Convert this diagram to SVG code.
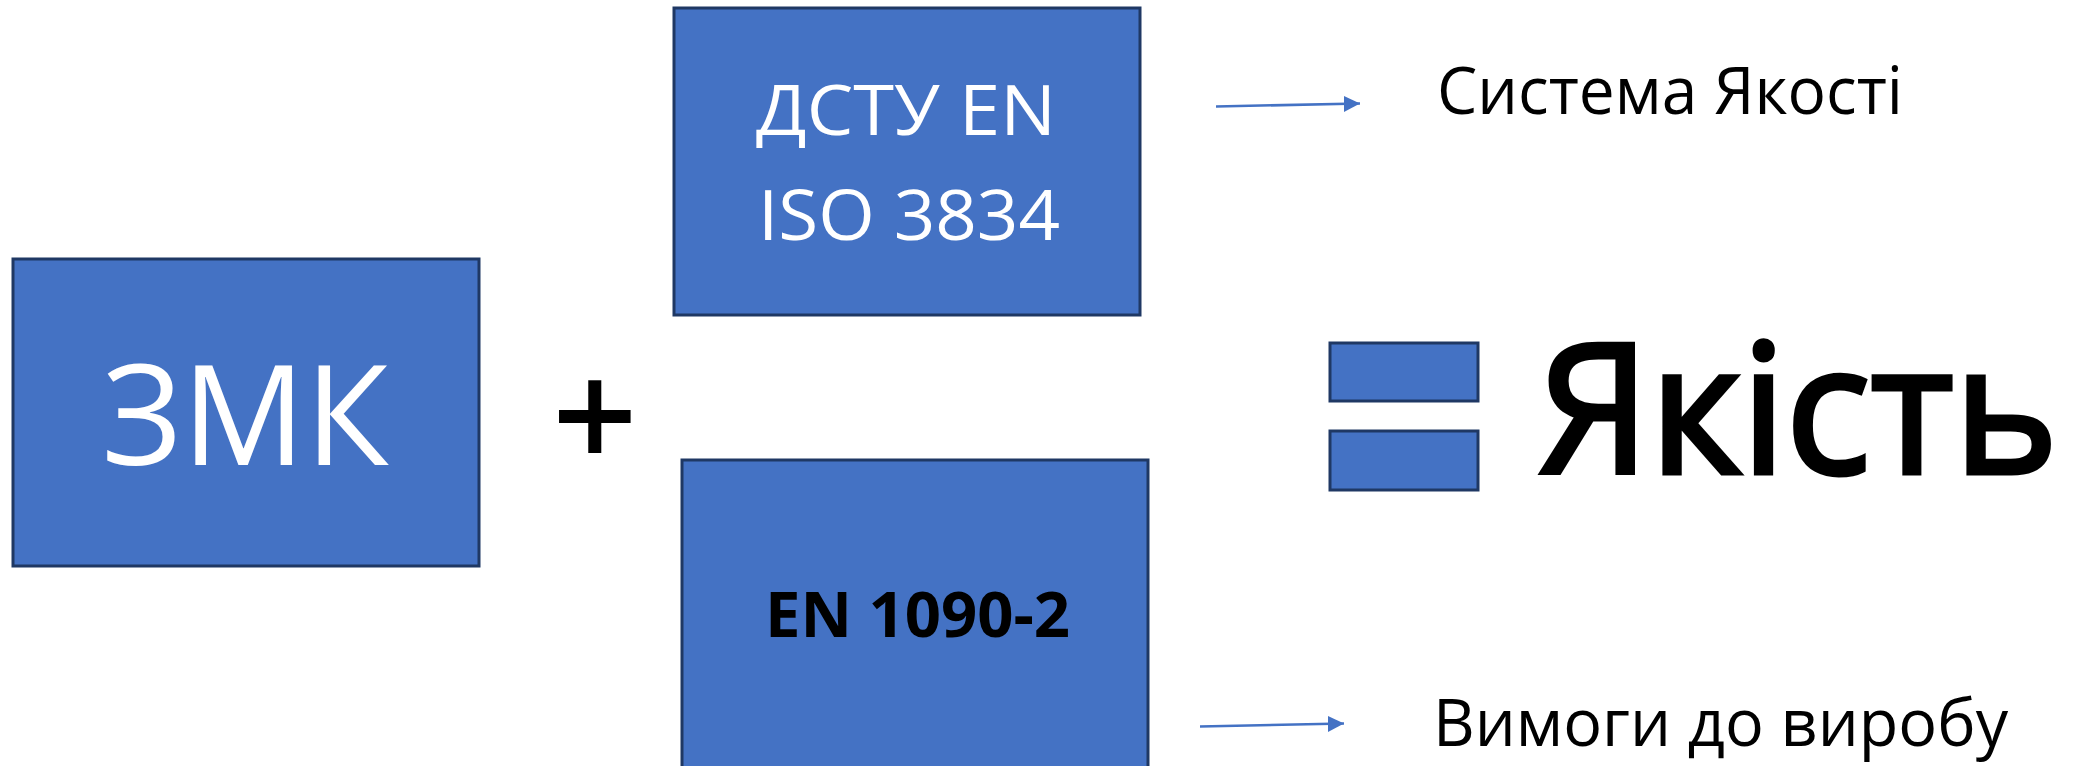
<svg xmlns="http://www.w3.org/2000/svg" width="2082" height="766" viewBox="0 0 2082 766">
<style>
.box{fill:#4472C4;stroke:#1F3864;stroke-width:3}
.wt{fill:#ffffff;font-family:"Open Sans","Liberation Sans",sans-serif;font-weight:400}
.bt{fill:#000000;font-family:"Open Sans","Liberation Sans",sans-serif}
.conn{stroke:#4472C4;stroke-width:2.5;fill:none}
</style>
<defs>
<marker id="ah" viewBox="0 0 10 10" refX="10" refY="5" markerWidth="6.5" markerHeight="6.5" markerUnits="strokeWidth" orient="auto">
<path d="M0,0 L10,5 L0,10 Z" fill="#4472C4"/>
</marker>
</defs>
<rect width="2082" height="766" fill="#ffffff"/>
<g id="zmk">
<rect class="box" x="13" y="259" width="466" height="307"/>
<text class="wt" x="102" y="465" font-size="140" textLength="287" lengthAdjust="spacingAndGlyphs">ЗМК</text>
</g>
<g id="plus">
<text class="bt" x="595" y="470" font-size="150" text-anchor="middle" font-weight="600">+</text>
</g>
<g id="dstu">
<rect class="box" x="674" y="8" width="466" height="307"/>
<text class="wt" x="756" y="135" font-size="70" textLength="300" lengthAdjust="spacingAndGlyphs">ДСТУ EN</text>
<text class="wt" x="758" y="240" font-size="70" textLength="302" lengthAdjust="spacingAndGlyphs">ISO 3834</text>
</g>
<g id="en1090">
<rect class="box" x="682" y="460" width="466" height="320"/>
<text class="bt" x="765" y="637" font-size="62" font-weight="700" textLength="305" lengthAdjust="spacingAndGlyphs">EN 1090-2</text>
</g>
<g id="equals">
<rect class="box" x="1330" y="343" width="148" height="58"/>
<rect class="box" x="1330" y="431" width="148" height="59"/>
</g>
<g id="quality">
<text class="bt" x="1538" y="473" font-size="180" stroke="#000000" stroke-width="5" textLength="520" lengthAdjust="spacingAndGlyphs">Якість</text>
</g>
<g id="qms-label">
<text class="bt" x="1437" y="114" font-size="66" textLength="466" lengthAdjust="spacingAndGlyphs">Система Якості</text>
</g>
<g id="product-label">
<text class="bt" x="1433" y="746" font-size="66" textLength="575" lengthAdjust="spacingAndGlyphs">Вимоги до виробу</text>
</g>
<g id="connectors">
<line class="conn" x1="1216" y1="106.5" x2="1360" y2="103.5" marker-end="url(#ah)"/>
<line class="conn" x1="1200" y1="726.5" x2="1344" y2="723.5" marker-end="url(#ah)"/>
</g>
</svg>
